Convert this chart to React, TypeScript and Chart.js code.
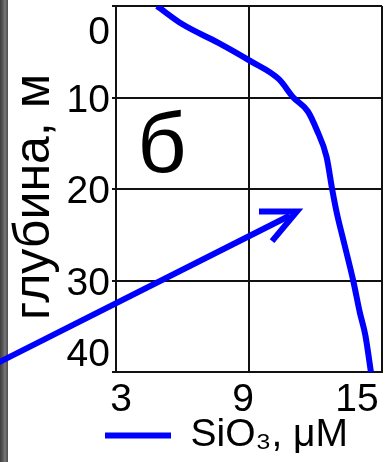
import React, { useEffect, useRef } from "react";
import { Chart, registerables } from "chart.js";

Chart.register(...registerables);

// ---- data ----
const depths = [0, 2, 4, 6, 8, 10, 11.5, 13.5, 16.5, 20, 22.5, 26, 30, 33.5, 36, 40];
const sio3 = [4.85, 6.0, 7.6, 9.05, 10.35, 11.0, 11.65, 12.05, 12.5, 12.75, 12.95, 13.3, 13.7, 14.0, 14.25, 14.5];

const xTicks = [3, 9, 15];
const yTicks = [0, 10, 20, 30, 40];

// arrow annotation (data coordinates)
const arrowShaftX = [-2.7, 10.85];
const arrowShaftY = [39.45, 22.9];
const arrowHeadX = [9.45, 11.16, 10.04];
const arrowHeadY = [22.45, 22.45, 25.7];

const seriesLabel = "SiO₃, μM";
const yTitle = "глубина, м";
const panelLetter = "б";
const panelLetterAt = { x: 5.07, y: 18.1 };

const FONT = "'Liberation Sans', Arial, sans-serif";
const BLUE = "#0000ff";
const INK = "#111111";

const tickLabelsPlugin = {
  id: "tickLabels",
  afterDraw(chart: any) {
    const { ctx, chartArea, scales } = chart;
    const xs = scales.x;
    const ys = scales.y;
    ctx.save();
    ctx.fillStyle = "#000";
    ctx.font = `39px ${FONT}`;
    // y tick labels (edge labels kept inside the frame)
    ctx.textAlign = "right";
    ctx.textBaseline = "alphabetic";
    for (const v of yTicks) {
      let py = ys.getPixelForValue(v);
      py = Math.min(Math.max(py, chartArea.top + 24), chartArea.bottom - 20);
      ctx.fillText(String(v), chartArea.left - 6, py + 14);
    }
    // x tick labels
    ctx.textAlign = "center";
    for (const v of xTicks) {
      let px = xs.getPixelForValue(v) - 6;
      px = Math.min(Math.max(px, chartArea.left + 5), chartArea.right - 25);
      ctx.fillText(String(v), px, chartArea.bottom + 39);
    }
    // y axis title
    ctx.save();
    ctx.translate(35, (chartArea.top + chartArea.bottom) / 2 + 8);
    ctx.rotate(-Math.PI / 2);
    ctx.font = `50px ${FONT}`;
    ctx.textAlign = "center";
    ctx.textBaseline = "middle";
    ctx.fillText(yTitle, 0, 0);
    ctx.restore();
    // panel letter
    ctx.font = `86px ${FONT}`;
    ctx.textAlign = "center";
    ctx.textBaseline = "alphabetic";
    ctx.fillText(panelLetter, xs.getPixelForValue(panelLetterAt.x), ys.getPixelForValue(panelLetterAt.y));
    ctx.restore();
  },
};

const legendPlacer = {
  id: "legendPlacer",
  afterLayout(chart: any) {
    const lg = chart.legend;
    if (!lg) return;
    const dx = 105 - lg.left;
    lg.left += dx;
    lg.right += dx;
    const dy = 3;
    lg.top += dy;
    lg.bottom += dy;
  },
};

export default function App() {
  const ref = useRef<HTMLCanvasElement | null>(null);

  useEffect(() => {
    document.body.style.margin = "0";
    const canvas = ref.current;
    if (!canvas) return;
    const chart = new Chart(canvas, {
      type: "line",
      data: {
        datasets: [
          {
            label: seriesLabel,
            data: depths.map((d, i) => ({ x: sio3[i], y: d })),
            borderColor: BLUE,
            backgroundColor: BLUE,
            borderWidth: 6,
            pointRadius: 0,
            cubicInterpolationMode: "monotone",
            fill: false,
          },
          {
            label: "arrow-shaft",
            data: arrowShaftX.map((x, i) => ({ x, y: arrowShaftY[i] })),
            borderColor: BLUE,
            borderWidth: 6,
            pointRadius: 0,
            tension: 0,
            clip: false as any,
            fill: false,
          },
          {
            label: "arrow-head",
            data: arrowHeadX.map((x, i) => ({ x, y: arrowHeadY[i] })),
            borderColor: BLUE,
            borderWidth: 6,
            borderJoinStyle: "miter",
            pointRadius: 0,
            tension: 0,
            clip: false as any,
            fill: false,
          },
        ],
      },
      options: {
        animation: false,
        responsive: false,
        events: [],
        layout: { padding: { left: 8, top: 6, right: 3, bottom: 0 } },
        plugins: {
          tooltip: { enabled: false },
          legend: {
            position: "bottom",
            align: "start",
            labels: {
              filter: (item: any) => item.datasetIndex === 0,
              usePointStyle: true,
              pointStyle: "line",
              pointStyleWidth: 66,
              padding: 0,
              color: "#000",
              font: { family: FONT, size: 39 },
            },
          },
        },
        scales: {
          x: {
            type: "linear",
            min: 3,
            max: 15,
            ticks: { stepSize: 6, display: false },
            grid: { color: INK, lineWidth: 2, drawTicks: false, tickLength: 0 },
            border: { color: INK, width: 2 },
            afterFit: (s: any) => {
              s.height = 41;
            },
          },
          y: {
            type: "linear",
            reverse: true,
            min: 0,
            max: 40,
            ticks: { stepSize: 10, display: false },
            grid: { color: INK, lineWidth: 2, drawTicks: true, tickLength: 4 },
            border: { color: INK, width: 2 },
            title: { display: false },
            afterFit: (s: any) => {
              s.width = 108;
            },
          },
        },
      },
      plugins: [tickLabelsPlugin, legendPlacer],
    });
    return () => chart.destroy();
  }, []);

  return (
    <div style={{ position: "absolute", left: 0, top: 0, width: 385, height: 462, background: "#fff", overflow: "hidden" }}>
      <div
        style={{
          position: "absolute",
          left: 0,
          top: 0,
          width: 8,
          height: 462,
          background: "linear-gradient(to right, #3e3e3e 0%, #5c5c5c 40%, #7a7a7a 60%, #4c4c4c 100%)",
        }}
      />
      <canvas ref={ref} width={385} height={462} style={{ position: "absolute", left: 0, top: 0 }} />
    </div>
  );
}
